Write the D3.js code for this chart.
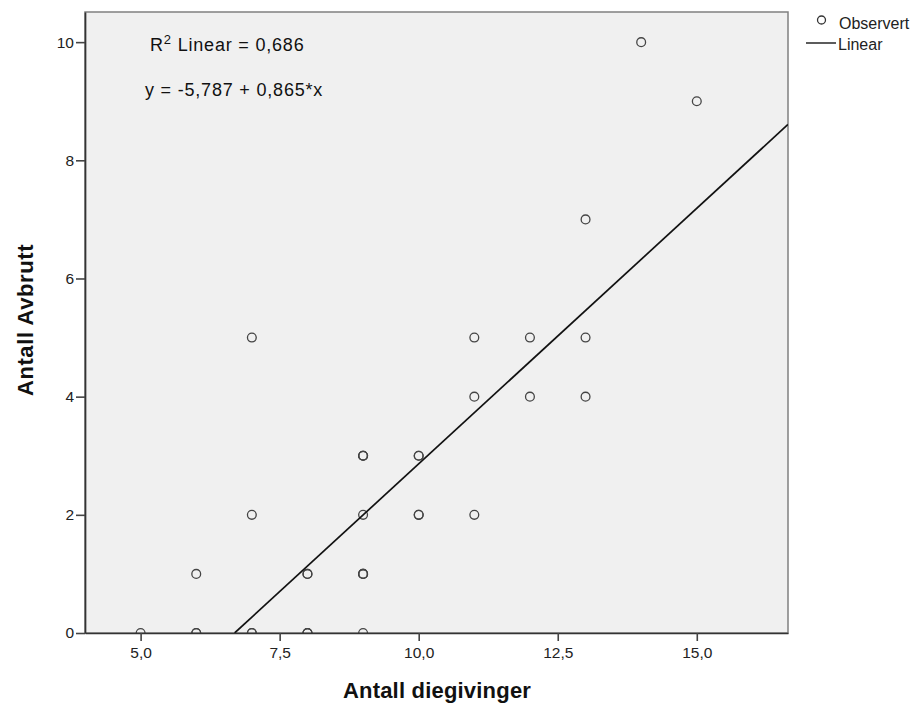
<!DOCTYPE html>
<html><head><meta charset="utf-8">
<script src="https://cdn.jsdelivr.net/npm/d3@7"></script>
<style>
body{margin:0;background:#fff;}
svg{display:block;font-family:"Liberation Sans",Arial,sans-serif;}
</style></head>
<body><svg id="c" width="918" height="704"></svg>
<script>
const diegivinger = [5,6,6,6,7,7,7,7,8,8,8,8,8,9,9,9,9,9,9,9,9,10,10,10,10,11,11,11,12,12,13,13,13,14,15];
const avbrutt     = [0,0,0,1,0,0,2,5,0,0,0,1,1,0,1,1,1,2,3,3,3,2,2,3,3,2,4,5,4,5,4,5,7,10,9];
const intercept = -5.787, slope = 0.865;
const xTicks = [5, 7.5, 10, 12.5, 15];
const yTicks = [0, 2, 4, 6, 8, 10];
const annotations = ["Linear = 0,686", "y = -5,787 + 0,865*x"];
const legendLabels = ["Observert", "Linear"];

const svg = d3.select("#c");
const L = 85, R = 788, T = 12, B = 633;
const x = d3.scaleLinear().domain([4, 16.64]).range([L, R]);
const y = d3.scaleLinear().domain([0, 10.51]).range([B, T]);
const fmt = d => d3.format(".1f")(d).replace(".", ",");

svg.append("rect").attr("x", L).attr("y", T).attr("width", R - L).attr("height", B - T)
  .attr("fill", "#f0f0f0").attr("stroke", "#808080").attr("stroke-width", 1.5);

svg.append("defs").append("clipPath").attr("id", "clip")
  .append("rect").attr("x", L).attr("y", T).attr("width", R - L).attr("height", B - T);

const g = svg.append("g").attr("clip-path", "url(#clip)");
g.selectAll("circle").data(diegivinger.map((d, i) => [d, avbrutt[i]])).join("circle")
  .attr("cx", d => x(d[0])).attr("cy", d => y(d[1])).attr("r", 4.4)
  .attr("fill", "none").attr("stroke", "#444").attr("stroke-width", 1.3);

const x0 = -intercept / slope, x1 = x.domain()[1];
g.append("line").attr("x1", x(x0)).attr("y1", y(intercept + slope * x0))
  .attr("x2", x(x1)).attr("y2", y(intercept + slope * x1))
  .attr("stroke", "#111").attr("stroke-width", 1.7);

const xa = svg.append("g").attr("transform", `translate(0,${B})`)
  .call(d3.axisBottom(x).tickValues(xTicks).tickFormat(fmt).tickSize(8).tickSizeOuter(0).tickPadding(6));
const ya = svg.append("g").attr("transform", `translate(${L},0)`)
  .call(d3.axisLeft(y).tickValues(yTicks).tickFormat(d => d).tickSize(9).tickSizeOuter(0).tickPadding(2));
[xa, ya].forEach(a => {
  a.select(".domain").attr("stroke", "#333").attr("stroke-width", 1.7);
  a.selectAll(".tick line").attr("stroke", "#444").attr("stroke-width", 1.6);
  a.selectAll("text").attr("fill", "#222").attr("font-size", 15.5)
    .attr("font-family", "'Liberation Sans',Arial,sans-serif");
});

svg.append("text").attr("x", 437).attr("y", 698).attr("text-anchor", "middle")
  .attr("font-weight", "bold").attr("font-size", 22).attr("letter-spacing", 0.2)
  .attr("fill", "#111").text("Antall diegivinger");
svg.append("text").attr("transform", `translate(33,320) rotate(-90)`)
  .attr("text-anchor", "middle").attr("font-weight", "bold").attr("font-size", 22)
  .attr("letter-spacing", 0.6).attr("fill", "#111").text("Antall Avbrutt");

const r2 = svg.append("text").attr("x", 150).attr("y", 51).attr("font-size", 18)
  .attr("letter-spacing", 0.8).attr("fill", "#111");
r2.append("tspan").text("R");
r2.append("tspan").attr("dy", -7).attr("font-size", 13).text("2");
r2.append("tspan").attr("dy", 7).text(" " + annotations[0]);
svg.append("text").attr("x", 145).attr("y", 96).attr("font-size", 18).attr("letter-spacing", 0.8)
  .attr("fill", "#111").text(annotations[1]);

svg.append("circle").attr("cx", 821.5).attr("cy", 20).attr("r", 4).attr("fill", "none")
  .attr("stroke", "#333").attr("stroke-width", 1.3);
svg.append("text").attr("x", 839).attr("y", 29).attr("font-size", 16).attr("fill", "#222").text(legendLabels[0]);
svg.append("line").attr("x1", 806).attr("x2", 836).attr("y1", 43).attr("y2", 43)
  .attr("stroke", "#333").attr("stroke-width", 1.6);
svg.append("text").attr("x", 838).attr("y", 50).attr("font-size", 16).attr("fill", "#222").text(legendLabels[1]);
</script></body></html>
